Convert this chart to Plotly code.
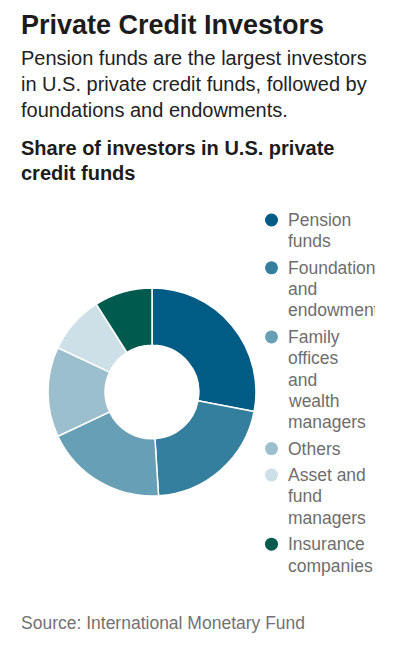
import plotly.graph_objects as go

# ---- data ----
categories = ["Pension funds", "Foundations and endowments",
              "Family offices and wealth managers", "Others",
              "Asset and fund managers", "Insurance companies"]
shares = [28, 21, 19, 14, 9, 9]
legend_lines = [["Pension", "funds"],
                ["Foundations", "and", "endowments"],
                ["Family", "offices", "and", "wealth", "managers"],
                ["Others"],
                ["Asset and", "fund", "managers"],
                ["Insurance", "companies"]]
colors = ["#005b85", "#357f9e", "#67a0b6", "#9cbfce", "#cde0e7", "#005a4e"]

title = "Private Credit Investors"
subtitle = ["Pension funds are the largest investors",
            "in U.S. private credit funds, followed by",
            "foundations and endowments."]
chart_title = ["Share of investors in U.S. private", "credit funds"]
source = "Source: International Monetary Fund"

# ---- layout constants (page pixel coords; the page body has an 8px margin) ----
OFF = 8
W, H = 398 - OFF, 657 - OFF
FONT = "Liberation Sans, Arial, sans-serif"


def px(x):
    return (x - OFF) / W


def py(y):
    return 1 - (y - OFF) / H


fig = go.Figure()
fig.add_trace(go.Pie(
    labels=categories, values=shares, sort=False, direction="clockwise",
    rotation=0, hole=0.45,
    marker=dict(colors=colors, line=dict(color="white", width=1.5)),
    textinfo="none", hoverinfo="label+percent", showlegend=False,
    domain=dict(x=[px(48), px(256)], y=[py(496), py(288)]),
))

ann = []


def text(x, y, s, size, color, bold=False, width=None):
    d = dict(x=px(x), y=py(y), xref="paper", yref="paper",
             text=f"<b>{s}</b>" if bold else s, showarrow=False,
             xanchor="left", yanchor="middle", align="left", borderpad=0,
             font=dict(family=FONT, size=size, color=color))
    if width:
        d["width"] = width
    ann.append(d)


text(20, 25, title, 27, "#1c1c1c", bold=True)
for i, s in enumerate(subtitle):
    text(20, 58.2 + i * 25.8, s, 20, "#222222")
for i, s in enumerate(chart_title):
    text(20, 148.2 + i * 25, s, 20, "#1c1c1c", bold=True)
text(20, 623.2, source, 17.5, "#727272")

shapes = []
y = 220
LH = 21.3
GAP = 5.2
for lines, c in zip(legend_lines, colors):
    shapes.append(dict(type="circle", xref="paper", yref="paper",
                       x0=px(265), x1=px(278), y0=py(y + 6.5), y1=py(y - 6.5),
                       fillcolor=c, line=dict(width=0)))
    for j, s in enumerate(lines):
        text(287, y + j * LH, s, 17.5, "#6e6e6e", width=87)
    y += len(lines) * LH + GAP

fig.update_layout(
    width=W, height=H, margin=dict(l=0, r=0, t=0, b=0),
    paper_bgcolor="white", plot_bgcolor="white",
    annotations=ann, shapes=shapes,
)

fig.write_html("out.html")
